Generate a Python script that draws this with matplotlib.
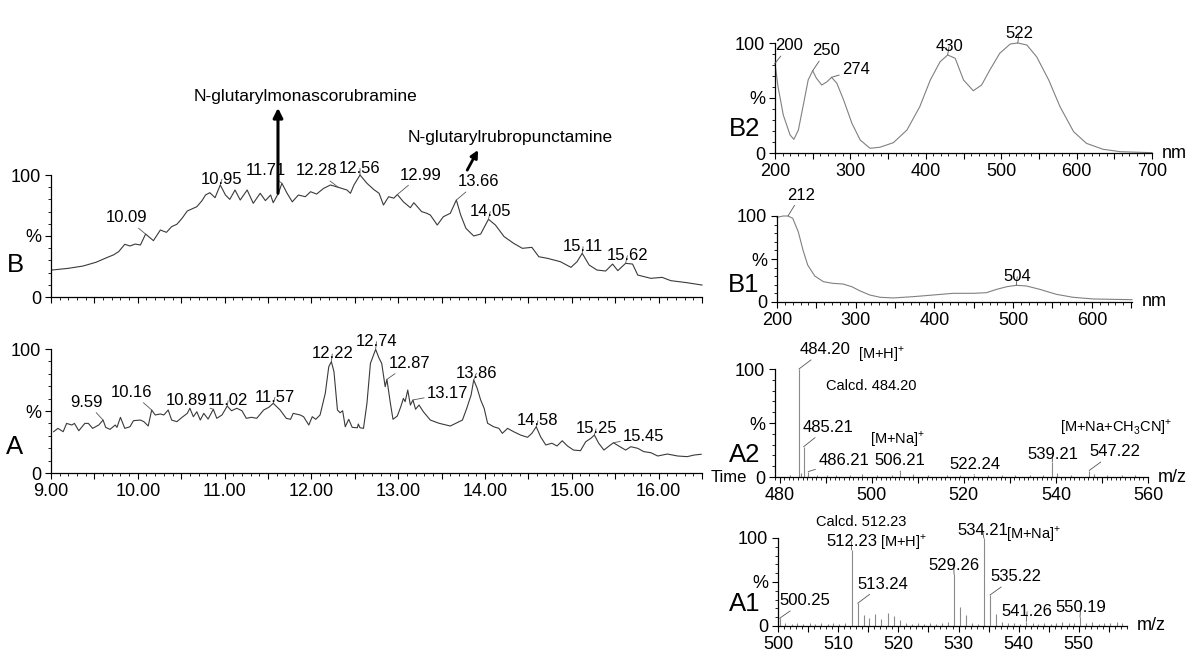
import matplotlib
matplotlib.use("Agg")
import matplotlib.pyplot as plt
from matplotlib.ticker import MultipleLocator, FuncFormatter

plt.rcParams["font.family"] = ["Liberation Sans", "DejaVu Sans"]
plt.rcParams["mathtext.fontset"] = "custom"
plt.rcParams["mathtext.rm"] = "Liberation Sans"

W, H = 1200, 670

# ---- chromatogram B (retention time, relative intensity)
b_time = [9.01, 9.20, 9.37, 9.52, 9.64, 9.72, 9.78, 9.85, 9.91, 9.97, 10.03, 10.09,
          10.18, 10.26, 10.33, 10.39, 10.45, 10.51, 10.57, 10.68, 10.74, 10.78, 10.83,
          10.89, 10.95, 11.01, 11.06, 11.12, 11.18, 11.26, 11.33, 11.41, 11.47, 11.53,
          11.56, 11.62, 11.66, 11.72, 11.78, 11.85, 11.93, 11.99, 12.06, 12.14, 12.22,
          12.31, 12.41, 12.45, 12.49, 12.56, 12.64, 12.72, 12.78, 12.83, 12.89, 12.95,
          12.99, 13.06, 13.14, 13.18, 13.27, 13.33, 13.37, 13.45, 13.52, 13.60, 13.67,
          13.72, 13.78, 13.87, 13.95, 14.04, 14.12, 14.22, 14.33, 14.43, 14.54, 14.62,
          14.72, 14.87, 14.99, 15.06, 15.12, 15.20, 15.29, 15.39, 15.47, 15.53, 15.62,
          15.70, 15.76, 15.91, 16.04, 16.14, 16.33, 16.50]
b_int = [22.1, 23.5, 25.4, 28.5, 32.2, 34.5, 37.2, 43.2, 41.8, 43.4, 42.6, 51.6,
         46.2, 54.9, 53.0, 57.7, 59.6, 64.5, 70.5, 74.0, 79.0, 83.6, 85.5,
         81.4, 91.8, 83.6, 80.0, 87.7, 79.5, 87.7, 76.8, 85.0, 79.0, 83.6,
         77.3, 85.0, 93.2, 85.0, 78.0, 83.6, 82.2, 86.3, 84.4, 89.0, 91.8,
         89.9, 87.7, 85.0, 91.8, 100.0, 93.2, 88.0, 85.0, 75.4, 82.2, 81.0,
         84.0, 78.0, 73.2, 77.3, 70.0, 68.6, 67.2, 59.0, 65.8, 68.6, 79.5,
         67.2, 56.3, 50.0, 51.6, 63.7, 59.0, 49.5, 44.0, 39.9, 40.7, 33.0,
         31.7, 28.9, 24.3, 28.9, 35.8, 26.2, 22.1, 21.3, 27.0, 21.6, 27.6,
         27.0, 18.0, 15.3, 16.1, 13.4, 11.7, 9.8]
b_labels = ["10.09", "10.95", "11.71", "12.28", "12.56", "12.99", "13.66", "14.05", "15.11", "15.62"]
b_peak_x = [10.09, 10.95, 11.66, 12.31, 12.56, 12.99, 13.67, 14.04, 15.12, 15.62]
b_peak_y = [51.6, 91.8, 93.2, 89.9, 100.0, 84.0, 79.5, 63.7, 35.8, 27.6]

# ---- chromatogram A
a_time = [9.03, 9.08, 9.14, 9.18, 9.24, 9.27, 9.32, 9.39, 9.43, 9.48, 9.55, 9.60,
          9.63, 9.68, 9.74, 9.76, 9.80, 9.85, 9.91, 9.95, 10.03, 10.07, 10.12, 10.16,
          10.20, 10.26, 10.30, 10.35, 10.39, 10.45, 10.51, 10.57, 10.60, 10.64, 10.68,
          10.72, 10.76, 10.81, 10.87, 10.91, 10.97, 11.03, 11.08, 11.14, 11.20, 11.25,
          11.31, 11.37, 11.45, 11.51, 11.56, 11.64, 11.71, 11.76, 11.79, 11.87, 11.91,
          11.97, 12.01, 12.05, 12.10, 12.16, 12.20, 12.23, 12.26, 12.30, 12.33, 12.36,
          12.39, 12.43, 12.47, 12.53, 12.54, 12.56, 12.60, 12.64, 12.68, 12.74, 12.78,
          12.81, 12.85, 12.87, 12.91, 12.94, 12.99, 13.03, 13.06, 13.08, 13.11, 13.14,
          13.17, 13.20, 13.24, 13.29, 13.37, 13.47, 13.60, 13.68, 13.74, 13.79, 13.84,
          13.87, 13.91, 13.95, 13.99, 14.03, 14.10, 14.16, 14.20, 14.26, 14.33, 14.41,
          14.49, 14.54, 14.59, 14.64, 14.70, 14.77, 14.83, 14.89, 14.95, 15.02, 15.10,
          15.16, 15.22, 15.26, 15.31, 15.37, 15.43, 15.48, 15.54, 15.62, 15.68, 15.76,
          15.83, 15.91, 15.99, 16.10, 16.22, 16.33, 16.41, 16.49]
a_int = [33.3, 36.0, 33.3, 40.0, 38.7, 40.0, 34.1, 40.0, 40.0, 36.0, 38.7, 42.7,
         36.8, 35.2, 38.7, 36.8, 44.9, 36.0, 37.3, 42.2, 42.7, 41.4, 37.9, 50.8,
         46.8, 47.6, 46.8, 50.8, 42.7, 41.4, 44.9, 48.1, 52.2, 45.4, 49.4,
         42.7, 48.1, 43.5, 51.4, 44.1, 46.8, 54.0, 50.2, 52.2, 50.2, 44.1,
         44.9, 44.1, 50.8, 53.0, 56.2, 50.8, 44.1, 43.3, 48.1, 46.8, 45.4,
         38.7, 45.4, 43.3, 46.8, 64.3, 85.7, 89.8, 81.7, 50.8, 48.6, 50.2,
         37.3, 43.3, 36.8, 36.5, 39.5, 36.5, 36.0, 56.2, 88.4, 99.7, 92.5,
         88.4, 69.6, 75.5, 56.2, 43.3, 46.0, 53.5, 60.2, 57.5, 66.9, 54.8,
         58.9, 51.4, 54.8, 49.4, 42.7, 40.1, 37.9, 40.6, 42.7, 52.2, 62.9,
         75.0, 68.3, 58.9, 52.2, 40.1, 37.3, 36.0, 32.0, 36.0, 33.3, 30.6,
         28.8, 32.0, 37.3, 29.3, 22.6, 24.0, 21.8, 26.0, 21.8, 18.5, 18.0,
         25.2, 28.0, 30.6, 24.0, 18.5, 21.8, 24.4, 21.8, 18.5, 21.2, 19.9,
         17.2, 16.4, 13.7, 15.3, 13.7, 13.2, 14.5, 15.1]
a_labels = ["9.59", "10.16", "10.89", "11.02", "11.57", "12.22", "12.74", "12.87",
            "13.17", "13.86", "14.58", "15.25", "15.45"]
a_peak_x = [9.60, 10.16, 10.87, 11.03, 11.56, 12.23, 12.74, 12.87, 13.17, 13.87, 14.59, 15.26, 15.48]
a_peak_y = [42.7, 50.8, 51.4, 54.0, 56.2, 89.8, 99.7, 75.5, 58.9, 75.0, 37.3, 30.6, 24.4]

# ---- UV spectrum B2 (nm, %)
b2_nm = [200, 204, 211, 220, 225, 231, 238, 244, 250, 255, 262, 269, 275, 282, 291,
         302, 313, 326, 339, 357, 375, 392, 406, 419, 429, 439, 450, 463, 474, 485,
         498, 512, 522, 534, 547, 563, 578, 596, 613, 635, 658, 700]
b2_int = [81.5, 60.3, 34.5, 16.4, 12.4, 20.9, 45.2, 66.4, 74.8, 67.9, 61.8, 64.8, 68.8,
          63.4, 48.2, 27.0, 11.8, 4.3, 5.2, 9.4, 20.9, 42.1, 66.4, 83.0, 89.1, 86.1,
          66.4, 56.6, 61.8, 75.5, 90.6, 99.1, 100.0, 98.2, 87.5, 66.4, 42.1, 19.4,
          8.8, 3.4, 1.2, 0.3]
b2_labels = ["200", "250", "274", "430", "522"]
b2_peak_x = [200, 250, 275, 429, 522]
b2_peak_y = [81.5, 74.8, 68.8, 89.1, 100.0]

# ---- UV spectrum B1
b1_nm = [200, 208, 214, 220, 227, 233, 239, 248, 259, 271, 284, 295, 305, 318, 331,
         347, 373, 398, 424, 449, 466, 479, 492, 504, 517, 534, 555, 576, 602, 627, 651]
b1_int = [98.5, 100.0, 100.0, 97.3, 81.7, 60.5, 43.0, 30.2, 23.6, 21.7, 20.9, 17.8,
          13.1, 8.1, 5.5, 4.7, 6.2, 8.1, 10.1, 10.1, 10.8, 14.7, 17.8, 19.4, 18.6,
          14.7, 8.9, 5.5, 3.5, 3.1, 2.7]
b1_labels = ["212", "504"]
b1_peak_x = [214, 504]
b1_peak_y = [100.0, 19.4]

# ---- mass spectrum A2 (m/z, %)
a2_mz = [482.3, 484.20, 484.6, 485.21, 486.21, 488.2, 490.3, 492.2, 495.2, 498.0,
         501.2, 504.3, 506.21, 509.0, 512.2, 516.3, 519.2, 522.24, 525.2, 528.3,
         531.2, 534.3, 537.2, 539.21, 540.2, 543.3, 547.22, 548.2, 551.2, 554.3, 557.2]
a2_int = [1.5, 100.0, 4.0, 28.0, 5.0, 1.5, 2.0, 1.5, 1.5, 3.0,
          1.5, 2.0, 4.5, 2.5, 1.5, 2.0, 1.5, 2.0, 1.5, 2.0,
          1.5, 2.0, 1.5, 14.0, 4.0, 2.0, 6.0, 3.0, 2.0, 1.5, 2.0]
a2_labels = ["484.20", "485.21", "486.21", "506.21", "522.24", "539.21", "547.22"]
a2_peak_x = [484.20, 485.21, 486.21, 506.21, 522.24, 539.21, 547.22]
a2_peak_y = [100.0, 28.0, 5.0, 4.5, 2.0, 14.0, 6.0]

# ---- mass spectrum A1
a1_mz = [500.25, 501.2, 502.3, 503.2, 504.1, 505.3, 506.2, 507.2, 508.3, 509.2, 510.2,
         511.2, 512.23, 513.24, 514.26, 515.2, 516.2, 517.2, 518.2, 519.2, 520.2,
         521.2, 522.3, 523.2, 524.2, 525.3, 526.2, 527.3, 528.2, 529.26, 530.27,
         531.3, 532.3, 533.2, 534.21, 535.22, 536.3, 537.2, 538.3, 539.2, 540.2,
         541.26, 542.3, 543.2, 544.2, 545.3, 546.2, 547.2, 548.3, 549.2, 550.19,
         551.2, 552.2, 553.3, 554.2, 555.2, 556.3, 557.2]
a1_int = [8.7, 3.0, 2.0, 3.5, 2.5, 3.0, 2.0, 3.5, 2.5, 3.0, 2.0,
          3.0, 86.4, 25.8, 12.5, 8.7, 13.6, 7.6, 15.2, 11.4, 6.8,
          3.0, 2.5, 3.5, 2.0, 3.0, 2.5, 3.5, 4.0, 58.7, 22.0,
          12.0, 3.0, 2.5, 100.0, 35.2, 13.6, 4.0, 3.0, 3.5, 2.5,
          5.0, 3.0, 2.5, 3.5, 2.5, 3.0, 4.0, 3.0, 3.5, 10.0,
          3.0, 4.0, 2.5, 3.5, 3.0, 4.0, 3.0]
a1_labels = ["500.25", "512.23", "513.24", "529.26", "534.21", "535.22", "541.26", "550.19"]
a1_peak_x = [500.25, 512.23, 513.24, 529.26, 534.21, 535.22, 541.26, 550.19]
a1_peak_y = [8.7, 86.4, 25.8, 58.7, 100.0, 35.2, 5.0, 10.0]

# label placement (data coords of the text centre)
b_lbl_pos = [(9.865, 64.8), (10.97, 96.7), (11.48, 103.5), (12.06, 103.5), (12.56, 105.5),
             (13.26, 100.0), (13.92, 94.5), (14.06, 70.0), (15.13, 41.2), (15.64, 33.9)]
a_lbl_pos = [(9.41, 57.0), (9.93, 65.0), (10.56, 58.3), (11.04, 58.3), (11.58, 61.0),
             (12.24, 96.0), (12.75, 105.9), (13.13, 88.4), (13.57, 64.2), (13.90, 80.4),
             (14.61, 42.2), (15.28, 35.5), (15.83, 29.3)]
b2_lbl_pos = [(218.5, 97.5), (267.7, 92.9), (307.4, 75.5), (430.8, 96.6), (523.6, 108.8)]
b1_lbl_pos = [(230.2, 124.4), (505.2, 29.4)]
a2_lbl_pos = [(489.8, 118.0), (490.5, 46.0), (493.9, 15.0), (506.1, 15.0), (522.4, 11.8),
              (539.3, 20.4), (552.8, 23.4)]
a1_lbl_pos = [(504.5, 28.8), (512.2, 95.8), (517.5, 47.7), (529.2, 68.5), (534.0, 109.0),
              (539.5, 56.0), (541.4, 16.3), (550.3, 21.2)]


def px_rect(x0, y0, x1, y1):
    return [x0 / W, 1 - y1 / H, (x1 - x0) / W, (y1 - y0) / H]


def style(ax, xlim, major, minor, label_every, fmt, show_labels=True):
    for s in ["top", "right"]:
        ax.spines[s].set_visible(False)
    for s in ["left", "bottom"]:
        ax.spines[s].set_linewidth(0.9)
    ax.set_xlim(*xlim)
    ax.set_ylim(0, 100)
    ax.set_yticks([0, 50, 100])
    ax.set_yticklabels(["0", "%", "100"])
    ax.yaxis.set_minor_locator(MultipleLocator(10))
    ax.xaxis.set_major_locator(MultipleLocator(major))
    ax.xaxis.set_minor_locator(MultipleLocator(minor))

    def f(v, p):
        k = v / label_every
        return fmt.format(v) if abs(k - round(k)) < 1e-6 else ""
    ax.xaxis.set_major_formatter(FuncFormatter(f))
    ax.tick_params(which="major", length=4, width=0.8, labelsize=13, pad=3)
    ax.tick_params(which="minor", length=2.2, width=0.6)
    if not show_labels:
        ax.tick_params(axis="x", labelbottom=False)


def peak_labels(ax, labels, px, py, pos, size=12):
    for t, x, y, p in zip(labels, px, py, pos):
        ax.annotate(t, xy=(x, y), xytext=p, ha="center", va="center", fontsize=size,
                    annotation_clip=False,
                    arrowprops=dict(arrowstyle="-", lw=0.6, color="#555555",
                                    shrinkA=0, shrinkB=0))


fig = plt.figure(figsize=(12, 6.7), dpi=100)

ax_b = fig.add_axes(px_rect(51, 175, 702, 297))
ax_a = fig.add_axes(px_rect(51, 349, 702, 473))
ax_b2 = fig.add_axes(px_rect(775, 43, 1152, 153))
ax_b1 = fig.add_axes(px_rect(777, 216, 1132, 302))
ax_a2 = fig.add_axes(px_rect(775, 369, 1148, 477))
ax_a1 = fig.add_axes(px_rect(778, 538, 1127, 626))

# chromatograms
ax_b.plot(b_time, b_int, color="#3a3a3a", lw=0.8, clip_on=False)
style(ax_b, (9.0, 16.5), 0.5, 0.1, 1, "{:.2f}", show_labels=False)
peak_labels(ax_b, b_labels, b_peak_x, b_peak_y, b_lbl_pos)

ax_a.plot(a_time, a_int, color="#3a3a3a", lw=0.8, clip_on=False)
style(ax_a, (9.0, 16.5), 0.5, 0.1, 1, "{:.2f}")
peak_labels(ax_a, a_labels, a_peak_x, a_peak_y, a_lbl_pos)

# compound arrows
ax_b.annotate("", xy=(11.615, 155), xytext=(11.615, 85), annotation_clip=False,
              arrowprops=dict(arrowstyle="-|>", lw=2.2, color="black",
                              mutation_scale=14, shrinkA=0, shrinkB=0))
ax_b.text(11.93, 164, "N-glutarylmonascorubramine", ha="center", va="center",
          fontsize=12.5)
ax_b.annotate("", xy=(13.92, 120.5), xytext=(13.795, 104), annotation_clip=False,
              arrowprops=dict(arrowstyle="-|>", lw=2.0, color="black",
                              mutation_scale=11, shrinkA=0, shrinkB=0))
ax_b.text(14.29, 131, "N-glutarylrubropunctamine", ha="center", va="center",
          fontsize=12.5)

# UV spectra
ax_b2.plot(b2_nm, b2_int, color="#808080", lw=0.8, clip_on=False)
style(ax_b2, (200, 700), 50, 10, 100, "{:.0f}")
peak_labels(ax_b2, b2_labels, b2_peak_x, b2_peak_y, b2_lbl_pos)

ax_b1.plot(b1_nm, b1_int, color="#808080", lw=0.8, clip_on=False)
style(ax_b1, (200, 651), 50, 10, 100, "{:.0f}")
peak_labels(ax_b1, b1_labels, b1_peak_x, b1_peak_y, b1_lbl_pos)

# mass spectra
ax_a2.vlines(a2_mz, 0, a2_int, color="#8a8a8a", lw=0.8)
style(ax_a2, (479, 560), 10, 1, 20, "{:.0f}")
peak_labels(ax_a2, a2_labels, a2_peak_x, a2_peak_y, a2_lbl_pos)
ax_a2.text(499.9, 84.5, "Calcd. 484.20", ha="center", va="center", fontsize=10.5)
ax_a2.text(497.0, 113.9, "[M+H]$^{+}$", ha="left", va="center", fontsize=10.5)
ax_a2.text(499.6, 34.9, "[M+Na]$^{+}$", ha="left", va="center", fontsize=10.5)
ax_a2.text(540.9, 46.0, "[M+Na+CH$_{3}$CN]$^{+}$", ha="left", va="center", fontsize=10.5)

ax_a1.vlines(a1_mz, 0, a1_int, color="#8a8a8a", lw=0.8)
style(ax_a1, (500, 558), 5, 1, 10, "{:.0f}")
peak_labels(ax_a1, a1_labels, a1_peak_x, a1_peak_y, a1_lbl_pos)
ax_a1.text(513.9, 117.8, "Calcd. 512.23", ha="center", va="center", fontsize=10.5)
ax_a1.text(516.9, 95.8, "[M+H]$^{+}$", ha="left", va="center", fontsize=10.5)
ax_a1.text(537.9, 104.5, "[M+Na]$^{+}$", ha="left", va="center", fontsize=10.5)

# axis end units
for ax, unit in [(ax_b2, "nm"), (ax_b1, "nm"), (ax_a2, "m/z"), (ax_a1, "m/z")]:
    ax.annotate(unit, xy=(1, 0), xycoords="axes fraction", xytext=(10, 0),
                textcoords="offset pixels", ha="left", va="center", fontsize=13)

# panel letters
for txt, x, y in [("B", 15, 265), ("A", 15, 447), ("B2", 745, 129), ("B1", 744, 285),
                  ("A2", 745, 455), ("A1", 745, 604)]:
    fig.text(x / W, 1 - y / H, txt, ha="center", va="center", fontsize=18.5)
fig.text(711 / W, 1 - 477 / H, "Time", ha="left", va="center", fontsize=12)

fig.savefig("out.png", dpi=100)
